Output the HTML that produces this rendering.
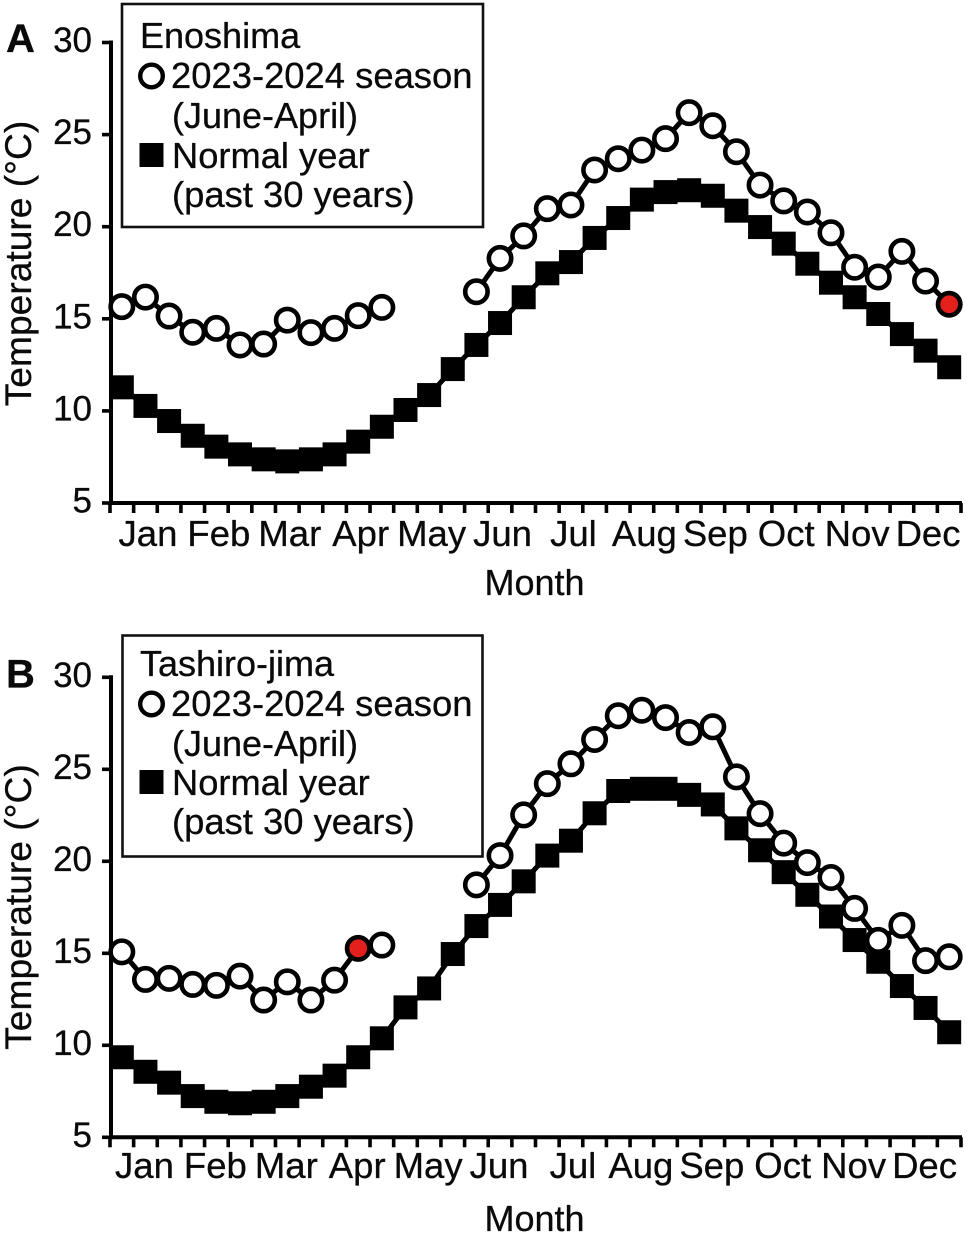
<!DOCTYPE html>
<html lang="en">
<head>
<meta charset="utf-8">
<title>Temperature charts: Enoshima and Tashiro-jima</title>
<style>
html,body{margin:0;padding:0;background:#fff;}
svg{display:block;}
text{font-family:"Liberation Sans",sans-serif;fill:#0a0a0a;stroke:#0a0a0a;stroke-width:0.3;}
</style>
</head>
<body>
<svg id="chart" xmlns="http://www.w3.org/2000/svg" width="967" height="1235" viewBox="0 0 967 1235"></svg>
<script>
const monthLabels = ["Jan","Feb","Mar","Apr","May","Jun","Jul","Aug","Sep","Oct","Nov","Dec"];
const yTickValues = [5,10,15,20,25,30];

const enoshimaSeason = [15.66,16.18,15.15,14.27,14.48,13.58,13.63,14.93,14.25,14.48,15.17,15.62,null,null,null,16.47,18.28,19.5,20.98,21.18,23.08,23.69,24.16,24.78,26.19,25.48,24.07,22.26,21.4,20.8,19.67,17.8,17.27,18.66,17.05,15.79];
const enoshimaNormal = [11.28,10.27,9.45,8.65,8.06,7.64,7.37,7.26,7.37,7.64,8.33,9.14,10.05,10.86,12.27,13.58,14.77,16.17,17.47,18.08,19.39,20.47,21.47,21.88,21.98,21.68,20.87,19.98,19.08,17.99,16.96,16.17,15.26,14.17,13.27,12.37];
const enoshimaHighlight = 35;

const tashiroSeason = [15.08,13.58,13.64,13.31,13.26,13.76,12.46,13.45,12.46,13.54,15.27,15.45,null,null,null,18.72,20.31,22.52,24.22,25.3,26.62,27.91,28.21,27.81,27.0,27.31,24.59,22.59,20.99,19.93,19.12,17.44,15.7,16.52,14.6,14.81];
const tashiroNormal = [9.35,8.56,7.97,7.24,6.93,6.85,6.93,7.24,7.75,8.35,9.35,10.38,12.06,13.09,14.96,16.48,17.63,18.91,20.31,21.12,22.61,23.82,23.94,23.94,23.61,23.09,21.79,20.6,19.41,18.18,17.0,15.72,14.54,13.22,12.03,10.71];
const tashiroHighlight = 10;

const svg = document.getElementById('chart');
const NS = 'http://www.w3.org/2000/svg';
const X0 = 110, X1 = 961, INTERVALS = 36;

function make(tag, attrs, parent, text) {
  const el = document.createElementNS(NS, tag);
  for (const k in attrs) el.setAttribute(k, attrs[k]);
  if (text !== undefined) el.textContent = text;
  parent.appendChild(el);
  return el;
}
function xTick(i) { return X0 + (X1 - X0) * i / INTERVALS; }
function xPoint(i) { return xTick(i + 0.5); }

function drawPanel(cfg) {
  const y = v => cfg.y5 + (v - 5) * (cfg.y30 - cfg.y5) / 25;

  const group = make('g', {}, svg);
  
  

  const letter = make('text', {x: 6, y: cfg.letterY, 'font-size': 40, 'font-weight': 'bold'}, group, cfg.letter);
  
  

  const axisY = make('line', {x1: X0 + 1, x2: X0 + 1, y1: cfg.y30 - 2, y2: cfg.y5 + 2, stroke: '#000', 'stroke-width': 4}, group);
  
  

  const axisX = make('line', {x1: X0 - 1, x2: X1 + 1, y1: cfg.y5, y2: cfg.y5, stroke: '#000', 'stroke-width': 4}, group);
  
  

  yTickValues.forEach(v => {
    const tick = make('line', {x1: 102, x2: X0 + 1, y1: y(v), y2: y(v), stroke: '#000', 'stroke-width': 3.6}, group);
    
    
    const label = make('text', {x: 92, y: y(v) + 9.5, 'font-size': 35, 'text-anchor': 'end'}, group, String(v));
    
    
  });

  for (let i = 0; i <= INTERVALS; i++) {
    const tick = make('line', {x1: xTick(i), x2: xTick(i), y1: cfg.y5, y2: cfg.y5 + 10, stroke: '#000', 'stroke-width': 3.6}, group);
    
    
  }

  monthLabels.forEach((m, i) => {
    const label = make('text', {x: xTick(3 * i + 1.5) + cfg.labelShift + (m === 'Jul' ? cfg.julShift : 0), y: cfg.monthY, 'font-size': 36.5, 'text-anchor': 'middle'}, group, m);
    
    
  });

  const xTitle = make('text', {x: 534.5, y: cfg.xTitleY, 'font-size': 36, 'text-anchor': 'middle'}, group, 'Month');
  
  

  const yTitle = make('text', {'font-size': 37.2, 'text-anchor': 'middle', transform: 'translate(31 ' + cfg.yTitleCenter + ') rotate(-90)'}, group, 'Temperature (°C)');
  
  

  // normal-year series
  const normalPts = cfg.normal.map((v, i) => xPoint(i) + ',' + y(v)).join(' ');
  const normalLine = make('polyline', {points: normalPts, fill: 'none', stroke: '#000', 'stroke-width': 5}, group);
  
  
  cfg.normal.forEach((v, i) => {
    const sq = make('rect', {x: xPoint(i) - 12, y: y(v) - 12, width: 24, height: 24, fill: '#000'}, group);
    
    
  });

  // season series, split by missing months
  let run = [];
  const flush = () => {
    if (run.length > 1) {
      const seg = make('polyline', {points: run.join(' '), fill: 'none', stroke: '#000', 'stroke-width': 5}, group);
      
      
    }
    run = [];
  };
  cfg.season.forEach((v, i) => {
    if (v === null) { flush(); return; }
    run.push(xPoint(i) + ',' + y(v));
  });
  flush();
  cfg.season.forEach((v, i) => {
    if (v === null) return;
    const hot = i === cfg.highlight;
    const c = make('circle', {cx: xPoint(i), cy: y(v), r: 11.2, fill: hot ? '#e3201b' : '#fff', stroke: '#000', 'stroke-width': 4.6}, group);
    
    
  });

  // legend
  const L = cfg.legend;
  const legend = make('g', {}, group);
  
  
  const box = make('rect', {x: L.x, y: L.y, width: L.w, height: L.h, fill: '#fff', stroke: '#111', 'stroke-width': 2.6}, legend);
  
  
  const title = make('text', {x: 140, y: L.lines[0], 'font-size': 36}, legend, cfg.site);
  
  
  const circ = make('circle', {cx: 151.5, cy: L.circleY, r: 11.3, fill: '#fff', stroke: '#000', 'stroke-width': 4.4}, legend);
  
  
  const square = make('rect', {x: 139.5, y: L.squareY, width: 24, height: 24, fill: '#000'}, legend);
  
  
  const e1 = make('text', {x: 171, y: L.lines[1], 'font-size': 36.4}, legend, '2023-2024 season');
  
  
  const e2 = make('text', {x: 172, y: L.lines[2], 'font-size': 36}, legend, '(June-April)');
  
  
  const e3 = make('text', {x: 172, y: L.lines[3], 'font-size': 36.3}, legend, 'Normal year');
  
  
  const e4 = make('text', {x: 172, y: L.lines[4], 'font-size': 36.4}, legend, '(past 30 years)');
  
  
}

drawPanel({
  id: 'enoshima', letter: 'A', site: 'Enoshima', letterY: 52,
  y30: 42.5, y5: 503, labelShift: 2.5, julShift: 0, monthY: 546, xTitleY: 595, yTitleCenter: 263.5,
  season: enoshimaSeason, normal: enoshimaNormal, highlight: enoshimaHighlight,
  legend: {x: 122, y: 4, w: 361, h: 223, lines: [48, 88, 128, 168, 207], circleY: 76, squareY: 143}
});
drawPanel({
  id: 'tashiro', letter: 'B', site: 'Tashiro-jima', letterY: 687.5,
  y30: 677.3, y5: 1137.3, labelShift: -1, julShift: 3, monthY: 1178, xTitleY: 1231, yTitleCenter: 907,
  season: tashiroSeason, normal: tashiroNormal, highlight: tashiroHighlight,
  legend: {x: 122.5, y: 635.5, w: 360, h: 221, lines: [676, 716, 756, 795, 834], circleY: 704, squareY: 770}
});
</script>
</body>
</html>
